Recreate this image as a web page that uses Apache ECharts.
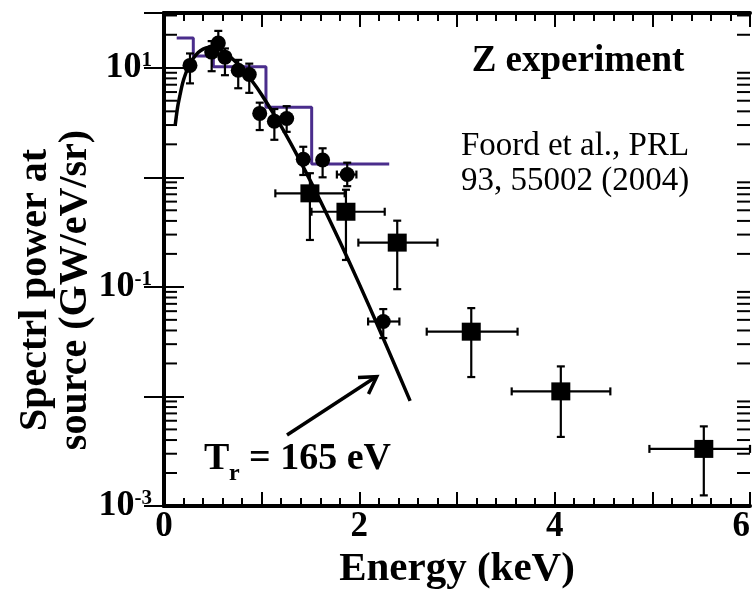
<!DOCTYPE html>
<html><head><meta charset="utf-8">
<script src="https://cdn.jsdelivr.net/npm/echarts@6/dist/echarts.min.js"></script>
<style>html,body{margin:0;padding:0;background:#fff}#c{width:755px;height:590px}</style>
</head><body><div id="c"></div>
<script>
const FONT = '"Liberation Serif","Times New Roman",Times,serif';

// x axis tick labels (keV), shown at every other major tick
const xTickLabels = {0: '0', 2: '2', 4: '4', 6: '6'};
// y axis decade labels: exponent -> text
const yTickLabels = {'-3': ['10', '-3'], '-1': ['10', '-1'], '1': ['10', '1']};
// log minor tick values
const logMinorTicks = [0.002,0.003,0.004,0.005,0.006,0.007,0.008,0.009,
  0.02,0.03,0.04,0.05,0.06,0.07,0.08,0.09,
  0.2,0.3,0.4,0.5,0.6,0.7,0.8,0.9,
  2,3,4,5,6,7,8,9, 20,30];

// T_r = 165 eV Planckian fit curve
const curveE = [0.115,0.14,0.165,0.19,0.215,0.25,0.3,0.35,0.4,0.45,0.5,0.55,0.6,0.7,0.8,0.9,1.0,1.2,1.4,1.6,1.8,2.0,2.2,2.4,2.52];
const curveV = [3.0,4.4,5.7,7.2,8.5,10.2,12.2,13.8,14.8,15.3,15.3,14.9,14.2,12.1,9.8,7.6,5.67,2.91,1.375,0.611,0.259,0.106,0.0419,0.0162,0.0091];

// purple step spectrum
const stepEdges = [0.13,0.30,0.505,1.044,1.512,2.306];
const stepValues = [18.7,12.8,10.2,4.35,1.32];

// filled circles: energy, value, y-low, y-high, x-low, x-high
const circE  = [0.266,0.488,0.556,0.624,0.76,0.873,0.98,1.13,1.256,1.426,1.624,1.876,2.245];
const circV  = [10.5,13.9,16.8,12.5,9.5,8.67,3.83,3.25,3.44,1.46,1.44,1.06,0.0483];
const circLo = [7.2,9.3,13.0,8.55,6.5,5.9,2.7,2.2,2.6,1.05,1.0,0.83,0.0341];
const circHi = [13.5,17.5,21.7,15.0,11.8,10.9,4.8,4.2,4.46,1.9,1.84,1.36,0.0627];
const circXLo = [0.266,0.488,0.556,0.624,0.76,0.873,0.98,1.13,1.256,1.426,1.624,1.77,2.09];
const circXHi = [0.266,0.488,0.556,0.624,0.76,0.873,0.98,1.13,1.256,1.426,1.624,1.97,2.41];

// filled squares
const sqE  = [1.494,1.863,2.388,3.146,4.063,5.527];
const sqV  = [0.714,0.485,0.2535,0.039,0.01112,0.00332];
const sqLo = [0.268,0.176,0.0953,0.01503,0.00427,0.00125];
const sqHi = [1.09,0.77,0.402,0.064,0.0188,0.00533];
const sqXLo = [1.14,1.51,1.99,2.69,3.56,4.97];
const sqXHi = [1.85,2.26,2.80,3.62,4.57,6.0];

const curveData = curveE.map((e, i) => [e, curveV[i]]);
const stepData = [];
stepValues.forEach((v, i) => { stepData.push([stepEdges[i], v]); stepData.push([stepEdges[i + 1], v]); });
const circData = circE.map((e, i) => [e, circV[i]]);
const sqData = sqE.map((e, i) => [e, sqV[i]]);
const errData = circE.map((e, i) => [e, circV[i], circXLo[i], circXHi[i], circLo[i], circHi[i]])
  .concat(sqE.map((e, i) => [e, sqV[i], sqXLo[i], sqXHi[i], sqLo[i], sqHi[i]]));

function errRender(params, api) {
  const x = api.value(0), y = api.value(1), xl = api.value(2), xh = api.value(3), yl = api.value(4), yh = api.value(5);
  const c = api.coord([x, y]);
  const st = {stroke: '#000', lineWidth: 2.2};
  const cap = 4;
  const ch = [];
  const a = api.coord([x, yl]), b = api.coord([x, yh]);
  ch.push({type: 'line', shape: {x1: c[0], y1: a[1], x2: c[0], y2: b[1]}, style: st});
  ch.push({type: 'line', shape: {x1: c[0] - cap, y1: a[1], x2: c[0] + cap, y2: a[1]}, style: st});
  ch.push({type: 'line', shape: {x1: c[0] - cap, y1: b[1], x2: c[0] + cap, y2: b[1]}, style: st});
  if (xh > xl) {
    const l = api.coord([xl, y]), r = api.coord([xh, y]);
    ch.push({type: 'line', shape: {x1: l[0], y1: c[1], x2: r[0], y2: c[1]}, style: st});
    ch.push({type: 'line', shape: {x1: l[0], y1: c[1] - cap, x2: l[0], y2: c[1] + cap}, style: st});
    ch.push({type: 'line', shape: {x1: r[0], y1: c[1] - cap, x2: r[0], y2: c[1] + cap}, style: st});
  }
  return {type: 'group', children: ch};
}

function minorTickRender(params, api) {
  const cs = params.coordSys;
  const y = api.coord([0, api.value(1)])[1];
  const st = {stroke: '#000', lineWidth: 2};
  return {type: 'group', children: [
    {type: 'line', shape: {x1: cs.x, y1: y, x2: cs.x + 13, y2: y}, style: st},
    {type: 'line', shape: {x1: cs.x + cs.width, y1: y, x2: cs.x + cs.width - 13, y2: y}, style: st}
  ]};
}

const axisLineStyle = {color: '#000', width: 4};
const tickStyle = {color: '#000', width: 2};
const xCommon = {type: 'value', min: 0, max: 6, interval: 1,
  splitLine: {show: false},
  axisLine: {show: true, onZero: false, lineStyle: axisLineStyle},
  axisTick: {show: true, inside: true, length: 14, lineStyle: tickStyle},
  minorTick: {show: true, splitNumber: 5, length: 8, lineStyle: tickStyle}};
const yCommon = {type: 'log', logBase: 10, min: 0.001, max: 31.6,
  splitLine: {show: false},
  axisLine: {show: true, lineStyle: axisLineStyle},
  axisTick: {show: true, inside: true, length: 20, lineStyle: tickStyle}};

const chart = echarts.init(document.getElementById('c'), null, {renderer: 'canvas'});
chart.setOption({
  animation: false,
  backgroundColor: '#fff',
  grid: {left: 164, right: 5, top: 13, bottom: 84, containLabel: false, outerBoundsMode: 'none'},
  xAxis: [
    Object.assign({}, xCommon, {position: 'bottom',
      axisLabel: {margin: 3, alignMaxLabel: 'right', color: '#000', fontFamily: FONT, fontWeight: 'bold', fontSize: 35,
        formatter: v => (xTickLabels[Math.round(v)] !== undefined && Math.abs(v - Math.round(v)) < 1e-6) ? xTickLabels[Math.round(v)] : ''},
      name: 'Energy (keV)', nameLocation: 'middle', nameGap: 28,
      nameTextStyle: {color: '#000', fontFamily: FONT, fontWeight: 'bold', fontSize: 41}}),
    Object.assign({}, xCommon, {position: 'top', axisLabel: {show: false}})
  ],
  yAxis: [
    Object.assign({}, yCommon, {position: 'left',
      axisLabel: {margin: 12, color: '#000',
        formatter: v => {
          const lg = Math.log10(v), e = Math.round(lg);
          if (Math.abs(lg - e) > 1e-6) return '';
          const t = yTickLabels[String(e)];
          return t ? '{b|' + t[0] + '}{s|' + t[1] + '}' : '';
        },
        rich: {
          b: {fontFamily: FONT, fontWeight: 'bold', fontSize: 36, lineHeight: 36, color: '#000'},
          s: {fontFamily: FONT, fontWeight: 'bold', fontSize: 21, lineHeight: 21, verticalAlign: 'top', color: '#000'}
        }}}),
    Object.assign({}, yCommon, {position: 'right', axisLabel: {show: false}})
  ],
  series: [
    {type: 'line', name: 'step', data: stepData, showSymbol: false, lineStyle: {color: '#4a2d8c', width: 3}, z: 2},
    {type: 'line', name: 'fit', data: curveData, showSymbol: false, smooth: 0.3, lineStyle: {color: '#000', width: 3.5}, z: 3},
    {type: 'custom', name: 'err', renderItem: errRender, data: errData, z: 4},
    {type: 'scatter', name: 'circles', data: circData, symbol: 'circle', symbolSize: 15, itemStyle: {color: '#000', opacity: 1}, z: 5},
    {type: 'scatter', name: 'squares', data: sqData, symbol: 'rect', symbolSize: [19, 18], itemStyle: {color: '#000', opacity: 1}, z: 5},
    {type: 'custom', name: 'minorticks', renderItem: minorTickRender, data: logMinorTicks.map(v => [0, v]), z: 6, silent: true}
  ],
  graphic: [
    {type: 'text', x: 56, y: 290, rotation: Math.PI / 2,
      style: {text: 'Spectrl power at\nsource (GW/eV/sr)', fontFamily: FONT, fontWeight: 'bold', fontSize: 40, lineHeight: 40,
        fill: '#000', align: 'center', verticalAlign: 'middle'}},
    {type: 'text', x: 578, y: 61, style: {text: 'Z experiment', fontFamily: FONT, fontWeight: 'bold', fontSize: 37, fill: '#000', align: 'center', verticalAlign: 'middle'}},
    {type: 'text', x: 575, y: 146, style: {text: 'Foord et al., PRL', fontFamily: FONT, fontSize: 33, fill: '#000', align: 'center', verticalAlign: 'middle'}},
    {type: 'text', x: 575, y: 181, style: {text: '93, 55002 (2004)', fontFamily: FONT, fontSize: 33, fill: '#000', align: 'center', verticalAlign: 'middle'}},
    {type: 'text', x: 204, y: 459, style: {text: 'T', fontFamily: FONT, fontWeight: 'bold', fontSize: 38, fill: '#000', align: 'left', verticalAlign: 'middle'}},
    {type: 'text', x: 229, y: 474, style: {text: 'r', fontFamily: FONT, fontWeight: 'bold', fontSize: 24, fill: '#000', align: 'left', verticalAlign: 'middle'}},
    {type: 'text', x: 249, y: 459, style: {text: '= 165 eV', fontFamily: FONT, fontWeight: 'bold', fontSize: 38, fill: '#000', align: 'left', verticalAlign: 'middle'}},
    {type: 'line', shape: {x1: 287, y1: 435, x2: 375, y2: 377.5}, style: {stroke: '#000', lineWidth: 3.5}},
    {type: 'polyline', shape: {points: [[358, 377.5], [376.7, 376.7], [368.5, 394]]}, style: {stroke: '#000', lineWidth: 3.5, fill: null}}
  ]
});
</script></body></html>
